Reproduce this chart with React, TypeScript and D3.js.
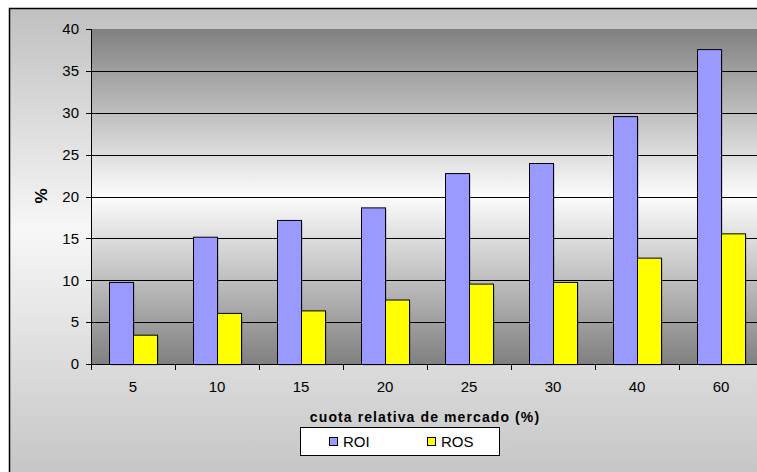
import React from "react";
import * as d3 from "d3";

const categories = ["5", "10", "15", "20", "25", "30", "40", "60"];
const seriesNames = ["ROI", "ROS"];
const roiValues = [9.8, 15.2, 17.2, 18.7, 22.8, 24.0, 29.6, 37.6];
const rosValues = [3.5, 6.1, 6.4, 7.7, 9.6, 9.8, 12.7, 15.6];
const yTicks = [0, 5, 10, 15, 20, 25, 30, 35, 40];
const seriesColors = ["#9999FF", "#FFFF00"];

const W = 757;
const H = 472;
const font = "'Liberation Sans', Arial, sans-serif";

export default function App() {
  const plotLeft = 91;
  const plotRight = 763;
  const plotTop = 29;
  const plotBottom = 364;

  const x0 = d3.scaleBand<string>().domain(categories).range([plotLeft, plotRight]).padding(0);
  const x1 = d3
    .scaleBand<string>()
    .domain(seriesNames)
    .range([0, x0.bandwidth()])
    .paddingInner(0)
    .paddingOuter(0.75);
  const y = d3.scaleLinear().domain([0, 40]).range([plotBottom, plotTop]);

  const values = [roiValues, rosValues];

  return (
    <svg
      width={W}
      height={H}
      style={{ position: "absolute", left: 0, top: 0, display: "block" }}
    >
      <defs>
        <linearGradient id="outerGrad" x1="0" y1="0" x2="0" y2="1">
          <stop offset="0" stopColor="#c0c0c0" />
          <stop offset="0.45" stopColor="#f7f7f7" />
          <stop offset="1" stopColor="#c0c0c0" />
        </linearGradient>
        <linearGradient id="plotGrad" x1="0" y1="0" x2="0" y2="1">
          <stop offset="0" stopColor="#808080" />
          <stop offset="0.5" stopColor="#fcfcfc" />
          <stop offset="1" stopColor="#808080" />
        </linearGradient>
      </defs>

      <rect x={9.5} y={8.5} width={W + 20} height={H + 20} fill="url(#outerGrad)" stroke="#000" strokeWidth={1.5} />
      <rect x={plotLeft} y={plotTop} width={plotRight - plotLeft} height={plotBottom - plotTop} fill="url(#plotGrad)" />

      {yTicks.filter((t) => t > 0 && t < 40).map((t) => (
        <line key={"g" + t} x1={plotLeft} x2={plotRight} y1={Math.round(y(t)) + 0.5} y2={Math.round(y(t)) + 0.5} stroke="#000" strokeWidth={1} />
      ))}

      {categories.map((c, i) =>
        seriesNames.map((s, j) => {
          const bx = (x0(c) as number) + (x1(s) as number);
          const by = y(values[j][i]);
          return (
            <g key={c + s}>
              <rect x={bx + 1.5} y={by + 1.5} width={x1.bandwidth()} height={plotBottom - by} fill="#000" opacity={0.25} />
              <rect x={bx + 0.5} y={by + 0.5} width={x1.bandwidth()} height={plotBottom - by} fill={seriesColors[j]} stroke="#000" strokeWidth={1} />
            </g>
          );
        })
      )}

      <line x1={plotLeft + 0.5} x2={plotLeft + 0.5} y1={plotTop} y2={plotBottom} stroke="#000" />
      <line x1={plotLeft} x2={plotRight} y1={plotBottom + 0.5} y2={plotBottom + 0.5} stroke="#000" />

      {yTicks.map((t) => (
        <g key={"y" + t}>
          <line x1={plotLeft - 5} x2={plotLeft} y1={Math.round(y(t)) + 0.5} y2={Math.round(y(t)) + 0.5} stroke="#000" />
          <text x={plotLeft - 12} y={y(t)} dy="0.35em" textAnchor="end" fontFamily={font} fontSize={15} fill="#000">
            {t}
          </text>
        </g>
      ))}

      {categories.map((c) => (
        <g key={"x" + c}>
          <line x1={(x0(c) as number) + 0.5} x2={(x0(c) as number) + 0.5} y1={plotBottom} y2={plotBottom + 6} stroke="#000" />
          <text x={(x0(c) as number) + x0.bandwidth() / 2} y={387} dy="0.35em" textAnchor="middle" fontFamily={font} fontSize={15} fill="#000">
            {c}
          </text>
        </g>
      ))}

      <text x={425} y={417} dy="0.35em" textAnchor="middle" fontFamily={font} fontSize={14} fontWeight="bold" fill="#000" letterSpacing={1.1}>
        cuota relativa de mercado (%)
      </text>
      <text transform={`translate(41,196) rotate(-90)`} dy="0.35em" textAnchor="middle" fontFamily={font} fontSize={17} fontWeight="bold" fill="#000">
        %
      </text>

      <rect x={300.5} y={427.5} width={199} height={28} fill="#fff" stroke="#000" />
      {seriesNames.map((s, j) => {
        const lx = 329 + j * 98;
        return (
          <g key={"l" + s}>
            <rect x={lx + 0.5} y={437.5} width={8} height={8} fill={seriesColors[j]} stroke="#000" />
            <text x={lx + 14} y={441.5} dy="0.35em" fontFamily={font} fontSize={15} fill="#000">
              {s}
            </text>
          </g>
        );
      })}
    </svg>
  );
}
